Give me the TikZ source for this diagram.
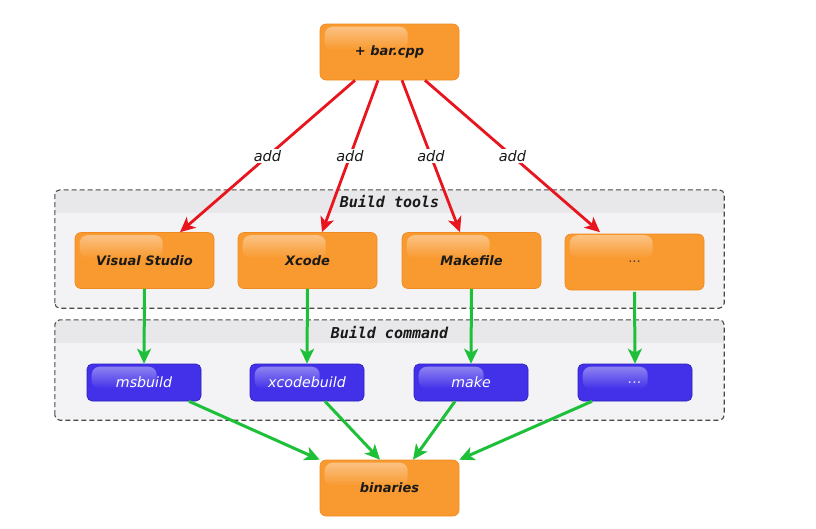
\documentclass[tikz,border=0pt]{standalone}
\usepackage{fontspec}
\setmainfont{DejaVu Sans}
\newfontfamily\monof{DejaVu Sans Mono}
\usetikzlibrary{arrows.meta,calc,fadings}
\definecolor{orng}{HTML}{F99A30}
\definecolor{orngedge}{HTML}{EE8A20}
\definecolor{blu}{HTML}{4331EA}
\definecolor{bluedge}{HTML}{2C20B8}
\definecolor{redarr}{HTML}{E8141E}
\definecolor{grnarr}{HTML}{1EC03A}
\definecolor{contbody}{HTML}{F3F3F5}
\definecolor{conthead}{HTML}{E8E8EA}
\definecolor{contedge}{HTML}{484848}
\newcommand\glossy[3]{%
  \fill[white, fill opacity=0.4, path fading=south, rounded corners=8pt]
    ($(#1.north west)+(5pt,-3pt)$) rectangle ($(#1.north west)+(#2pt,-#3pt)$);}
\newcommand\contbox[2]{%
  \begin{scope}
    \clip[rounded corners=5pt] (#1.south west) rectangle (#1.north east);
    \fill[conthead] (#1.north west) rectangle ($(#1.north east)+(0pt,-#2pt)$);
  \end{scope}
  \draw[contedge, line width=1.1pt, dash pattern=on 5pt off 3pt, rounded corners=5pt]
    (#1.south west) rectangle (#1.north east);}
\begin{document}
\begin{tikzpicture}[x=1pt,y=-1pt,
  onode/.style={fill=orng, draw=orngedge, line width=0.6pt, rounded corners=6pt,
    minimum width=139pt, minimum height=56pt, inner sep=0pt,
    font=\fontsize{13}{14}\selectfont\bfseries\itshape, text=black!90},
  bnode/.style={fill=blu, draw=bluedge, line width=0.6pt, rounded corners=5pt,
    minimum width=114pt, minimum height=37pt, inner sep=0pt,
    font=\fontsize{14.2}{16}\selectfont\itshape, text=white},
  cont/.style={fill=contbody, minimum width=669pt, inner sep=0pt, rounded corners=5pt},
  ctitle/.style={font=\monof\fontsize{15}{17}\selectfont\bfseries\itshape, text=black!90, inner sep=0pt},
  redarrow/.style={redarr, line width=2.8pt, -{Stealth[length=15pt,width=14pt,inset=4pt]}},
  grnarrow/.style={grnarr, line width=3pt, -{Stealth[length=15pt,width=14pt,inset=4pt]}},
  addlbl/.style={fill=white, inner sep=1.5pt, font=\fontsize{14.5}{16}\selectfont\itshape, text=black!90}
]
\useasboundingbox[fill=white] (0,0) rectangle (816,528);

% containers
\node[cont, minimum height=118pt] (tools) at (389.5,249) {};
\contbox{tools}{23}
\node[ctitle] (toolst) at (389.5,201.5) {Build tools};
\node[cont, minimum height=100pt] (cmd) at (389.5,370) {};
\contbox{cmd}{23}
\node[ctitle] (cmdt) at (389.5,332.5) {Build command};

% nodes
\node[onode] (bar) at (389.5,52) {+ bar.cpp};
\node[onode] (vs) at (144.5,260.5) {Visual Studio};
\node[onode] (xc) at (307.5,260.5) {Xcode};
\node[onode] (mk) at (471.5,260.5) {Makefile};
\node[onode, font=\fontsize{13}{14}\selectfont, text=black!75] (od) at (634.5,262) {...};
\node[bnode] (msb) at (144,382.5) {msbuild};
\node[bnode] (xcb) at (307,382.5) {xcodebuild};
\node[bnode] (mke) at (471,382.5) {make};
\node[bnode, text=white!80!blu] (bd) at (635,382.5) {...};
\node[onode] (bin) at (389.5,488) {binaries};

\foreach \n in {bar,vs,xc,mk,bin}{\glossy{\n}{88}{26}}
\fill[white, fill opacity=0.4, path fading=south, rounded corners=8pt]
  ($(od.north west)+(5pt,-1.5pt)$) rectangle ($(od.north west)+(88pt,-24.5pt)$);
\foreach \n in {msb,xcb,mke,bd}{\glossy{\n}{70}{25}}

% red arrows
\draw[redarrow] ($(bar.south)+(-34.5pt,0pt)$) -- node[addlbl]{add} ($(vs.north)+(35.5pt,0pt)$);
\draw[redarrow] ($(bar.south)+(-11.5pt,0pt)$) -- node[addlbl]{add} ($(xc.north)+(14.5pt,0pt)$);
\draw[redarrow] ($(bar.south)+(12.5pt,0pt)$) -- node[addlbl]{add} ($(mk.north)+(-11.5pt,0pt)$);
\draw[redarrow] ($(bar.south)+(35.5pt,0pt)$) -- node[addlbl]{add} ($(od.north)+(-34.5pt,1.5pt)$);

% green arrows
\draw[grnarrow] (vs.south) -- (msb.north);
\draw[grnarrow] (xc.south) -- (xcb.north);
\draw[grnarrow] (mk.south) -- (mke.north);
\draw[grnarrow] ($(od.south)+(0pt,-1.5pt)$) -- (bd.north);

\draw[grnarrow] ($(msb.south)+(45pt,0pt)$) -- (bin.north west);
\draw[grnarrow] ($(xcb.south)+(18pt,0pt)$) -- ($(bin.north)+(-9.5pt,0pt)$);
\draw[grnarrow] ($(mke.south)+(-16pt,0pt)$) -- ($(bin.north)+(23.5pt,0pt)$);
\draw[grnarrow] ($(bd.south)+(-43pt,0pt)$) -- (bin.north east);
\end{tikzpicture}
\end{document}
